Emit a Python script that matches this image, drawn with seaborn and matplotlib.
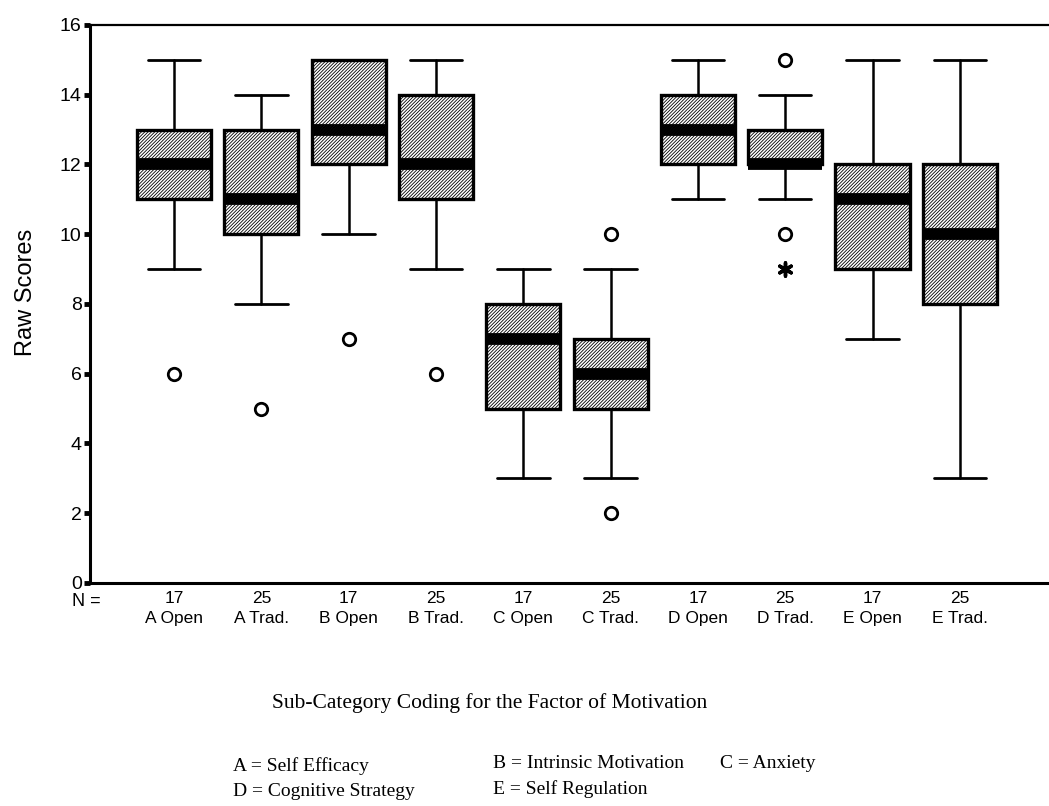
import matplotlib
matplotlib.use("Agg")
import matplotlib.pyplot as plt
import seaborn as sns
import pandas as pd
import numpy as np

# ---- data ----
categories = ["A Open", "A Trad.", "B Open", "B Trad.", "C Open",
              "C Trad.", "D Open", "D Trad.", "E Open", "E Trad."]
n_counts = [17, 25, 17, 25, 17, 25, 17, 25, 17, 25]
whisker_low = [9, 8, 10, 9, 3, 3, 11, 11, 7, 3]
q1 = [11, 10, 12, 11, 5, 5, 12, 12, 9, 8]
median = [12, 11, 13, 12, 7, 6, 13, 12, 11, 10]
q3 = [13, 13, 15, 14, 8, 7, 14, 13, 12, 12]
whisker_high = [15, 14, 15, 15, 9, 9, 15, 14, 15, 15]
outlier_cat = ["A Open", "A Trad.", "B Open", "B Trad.", "C Trad.", "C Trad.", "D Trad.", "D Trad."]
outlier_val = [6, 5, 7, 6, 10, 2, 15, 10]
extreme_cat = ["D Trad."]
extreme_val = [9]
yticks = [0, 2, 4, 6, 8, 10, 12, 14, 16]

sns.set_style("white")
plt.rcParams["font.family"] = ["Liberation Sans", "DejaVu Sans"]
plt.rcParams["text.color"] = "black"
plt.rcParams["axes.labelcolor"] = "black"
plt.rcParams["xtick.color"] = "black"
plt.rcParams["ytick.color"] = "black"
plt.rcParams["hatch.linewidth"] = 0.6
plt.rcParams["hatch.color"] = "#444444"

fig = plt.figure(figsize=(10.49, 8.06), dpi=100)
ax = fig.add_axes([0.0858, 0.2767, 0.9142, 0.6923])

positions = list(range(len(categories)))
stats = []
for i, c in enumerate(categories):
    stats.append(dict(label=c, whislo=whisker_low[i], q1=q1[i], med=median[i],
                      q3=q3[i], whishi=whisker_high[i], fliers=[]))

bp = ax.bxp(stats, positions=positions, widths=0.85, patch_artist=True,
            showfliers=False,
            boxprops=dict(facecolor="white", edgecolor="black", linewidth=2.4,
                          hatch="//////////"),
            medianprops=dict(color="black", linewidth=8.5, solid_capstyle="butt"),
            whiskerprops=dict(color="black", linewidth=1.8),
            capprops=dict(color="black", linewidth=2.0),
            capwidths=0.6)
for patch in bp["boxes"]:
    patch.set_edgecolor("black")

pos_map = {c: i for i, c in enumerate(categories)}
odf = pd.DataFrame({"x": [pos_map[c] for c in outlier_cat], "y": outlier_val})
sns.scatterplot(data=odf, x="x", y="y", ax=ax, marker="o", s=80,
                facecolor="white", edgecolor="black", linewidth=2.0, zorder=5)
edf = pd.DataFrame({"x": [pos_map[c] for c in extreme_cat], "y": extreme_val})
ax.scatter(edf["x"], edf["y"], marker=(6, 2, 0), s=90, color="black", linewidths=2.5, zorder=5)

ax.set_xlim(-0.962, 10.02)
ax.set_ylim(0, 16)
ax.set_yticks(yticks)
ax.set_yticklabels([str(t) for t in yticks], fontsize=14)
ax.tick_params(axis="y", direction="out", length=4, width=3.5, pad=2, left=True)
ax.set_xticks(positions)
ax.set_xticklabels([f"{n}\n{c}" for n, c in zip(n_counts, categories)],
                   fontsize=12.5, linespacing=1.4)
ax.tick_params(axis="x", length=0, pad=6)
ax.text(-0.004, -0.018, "N =", transform=ax.transAxes, ha="center", va="top", fontsize=13)

for s in ["left", "bottom", "top"]:
    ax.spines[s].set_linewidth(2.2)
    ax.spines[s].set_color("black")
ax.spines["top"].set_linewidth(1.6)
ax.spines["right"].set_visible(False)

ax.set_xlabel("")
ax.set_ylabel("Raw Scores", fontsize=17)
ax.yaxis.set_label_coords(-0.055, 0.52)

serif = ["Liberation Serif", "DejaVu Serif"]
fig.text(0.467, 1 - 703 / 806, "Sub-Category Coding for the Factor of Motivation",
         ha="center", va="center", fontsize=15.5, family=serif)
fig.text(233 / 1049, 1 - 766 / 806, "A = Self Efficacy", ha="left", va="center", fontsize=14, family=serif)
fig.text(493 / 1049, 1 - 764 / 806, "B = Intrinsic Motivation", ha="left", va="center", fontsize=14, family=serif)
fig.text(720 / 1049, 1 - 764 / 806, "C = Anxiety", ha="left", va="center", fontsize=14, family=serif)
fig.text(233 / 1049, 1 - 791 / 806, "D = Cognitive Strategy", ha="left", va="center", fontsize=14, family=serif)
fig.text(493 / 1049, 1 - 789 / 806, "E = Self Regulation", ha="left", va="center", fontsize=14, family=serif)

fig.savefig("out.png", dpi=100)
